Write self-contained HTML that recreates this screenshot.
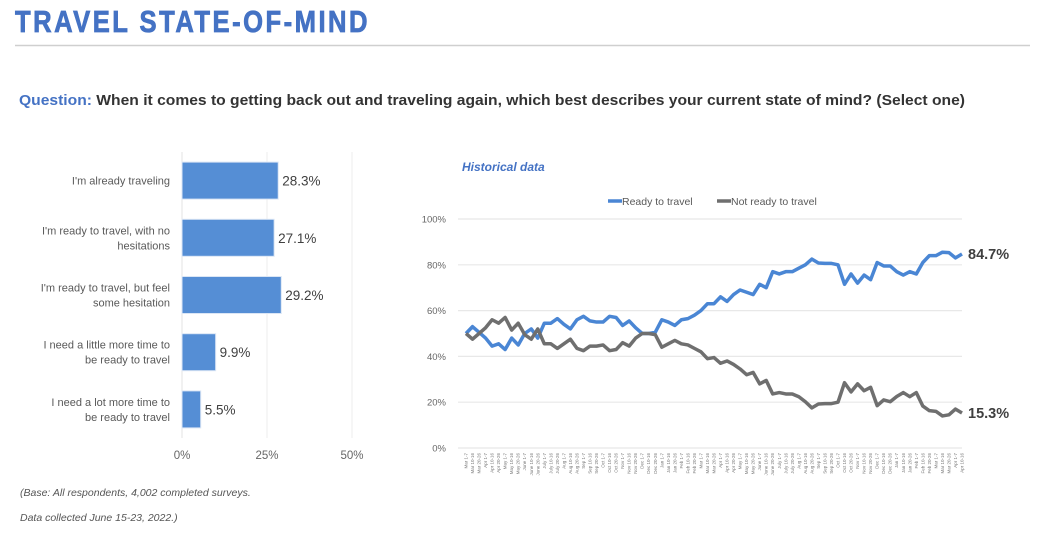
<!DOCTYPE html>
<html><head><meta charset="utf-8">
<style>
html,body{margin:0;padding:0;background:#fff;width:1042px;height:541px;overflow:hidden;font-family:"Liberation Sans",sans-serif;}
svg{position:absolute;left:0;top:0}
</style></head>
<body>
<svg id="svg" width="1042" height="541" viewBox="0 0 1042 541">
  <text x="15" y="32" font-size="31" font-weight="bold" fill="#4472C4" stroke="#4472C4" stroke-width="0.8" letter-spacing="3" textLength="355" lengthAdjust="spacingAndGlyphs">TRAVEL STATE-OF-MIND</text>
  <line x1="15" y1="45.5" x2="1030" y2="45.5" stroke="#cfcfcf" stroke-width="1.5"/>
  <text x="19" y="105" font-size="14.5" font-weight="bold" fill="#333" textLength="946" lengthAdjust="spacingAndGlyphs"><tspan fill="#4472C4">Question:</tspan> When it comes to getting back out and traveling again, which best describes your current state of mind? (Select one)</text>
  <g id="bars"></g>
  <text x="20" y="496" font-size="10.5" font-style="italic" fill="#555">(Base: All respondents, 4,002 completed surveys.</text>
  <text x="20" y="521" font-size="10.5" font-style="italic" fill="#555">Data collected June 15-23, 2022.)</text>
  <text x="462" y="171" font-size="12" font-style="italic" font-weight="bold" fill="#4472C4">Historical data</text>
  <g id="lines"></g>
</svg>
<script>
const barCategories = [["I'm already traveling"],["I'm ready to travel, with no","hesitations"],["I'm ready to travel, but feel","some hesitation"],["I need a little more time to","be ready to travel"],["I need a lot more time to","be ready to travel"]];
const barValues = [28.3, 27.1, 29.2, 9.9, 5.5];
const barTicks = [0, 25, 50];

const readyValues = [50,53,50.5,48,44.5,45.5,43,48,45,50,52,48,54.5,54.5,56.5,54,52,56,57.5,55.5,55,55,57.5,57,53.5,55.5,52.5,50,50,50.5,56,55,53.5,56,56.5,58,60,63,63,66,64,67,69,68,67,71.5,70,77,76,77,77,78.5,80,82.5,80.8,80.6,80.6,80,71.5,76,72,75.5,73.5,81,79.5,79.5,77,75.5,77,76,81,84,84,85.5,85.3,83,84.7];
const notReadyValues = [50,47.5,50,52.5,56,54.5,57,51.5,54.5,49.5,47.5,52,45.5,45.5,43.5,45.5,47.5,43.5,42.5,44.5,44.5,45,42.5,43,46,44.5,48,50,50,49.5,44,45.5,47,45.5,45,43.5,42,39,39.5,37,38,36.5,34.5,32,33,28,29.5,23.6,24.2,23.6,23.6,22.4,20.2,17.5,19.2,19.4,19.4,20,28.5,24.5,28,25,26.5,18.5,21,20.2,22.5,24.2,22.4,24.2,18.3,16.3,16,14,14.5,17,15.3];
const lineTicks = [0,20,40,60,80,100];
const seriesNames = ["Ready to travel","Not ready to travel"];
const months = ["Mar","Apr","May","June","July","Aug","Sep","Oct","Nov","Dec","Jan","Feb"];
const dateLabels = readyValues.map((v,i)=>{const m=months[Math.floor(i/3)%12];const d=[1,10,20][i%3];return m+" "+d+"-"+(d+6);});

const NS="http://www.w3.org/2000/svg";
function mk(tag,attrs,parent,text){const e=document.createElementNS(NS,tag);for(const k in attrs)e.setAttribute(k,attrs[k]);if(text!==undefined)e.textContent=text;parent.appendChild(e);return e;}

// Bar chart
const bg=document.getElementById('bars');
const bx0=182, bx1=352, by0=152, by1=438;
const bxs=v=>bx0+(v/50)*(bx1-bx0);
const band=(by1-by0)/barValues.length;
barTicks.forEach(t=>{
  if(t>0){const gl=mk('line',{x1:bxs(t),x2:bxs(t),y1:by0,y2:by1,stroke:'#ededed','stroke-width':1},bg);
  
  }
  const tl=mk('text',{x:bxs(t),y:459,'font-size':11.5,fill:'#666','text-anchor':'middle'},bg,t+'%');
  
  
});
const ax=mk('line',{x1:bx0,x2:bx0,y1:by0,y2:by1,stroke:'#e3e3e3','stroke-width':1},bg);


barValues.forEach((v,i)=>{
  const cy=by0+band*(i+0.5);
  const r=mk('rect',{x:bx0,y:cy-18.5,width:bxs(v)-bx0,height:37,fill:'#558ED5',stroke:'#dbe6f5','stroke-width':1},bg);
  
  
  const vl=mk('text',{x:bxs(v)+4,y:cy+5,'font-size':13.5,fill:'#404040'},bg,v.toFixed(1)+'%');
  
  
  const lines=barCategories[i];
  lines.forEach((s,j)=>{
    const yy=cy+4+(j-(lines.length-1)/2)*15;
    const cl=mk('text',{x:170,y:yy,'font-size':11,fill:'#595959','text-anchor':'end'},bg,s);
    
    
  });
});

// Line chart
const lg=document.getElementById('lines');
const lx0=466, lx1=962, ly0=448, ly1=219;
const ys=v=>ly0-(v/100)*(ly0-ly1);
const n=readyValues.length;
const xs=i=>lx0+i*(lx1-lx0)/(n-1);
lineTicks.forEach(t=>{
  const gl=mk('line',{x1:458,x2:962,y1:ys(t),y2:ys(t),stroke:'#e8e8e8','stroke-width':1.2},lg);
  
  
  const tl=mk('text',{x:446,y:ys(t)+3.5,'font-size':9.5,fill:'#666','text-anchor':'end'},lg,t+'%');
  
  
});
dateLabels.forEach((s,i)=>{
  const t=mk('text',{x:0,y:0,'font-size':4.5,fill:'#777','text-anchor':'end',transform:'translate('+(xs(i)+1.5)+',453) rotate(-90)'},lg,s);
  
  
});
const colors=['#4A86D4','#6F6F6F'];
[readyValues,notReadyValues].forEach((arr,k)=>{
  const p=mk('polyline',{points:arr.map((v,i)=>xs(i)+','+ys(v)).join(' '),fill:'none',stroke:colors[k],'stroke-width':3.5,'stroke-linejoin':'round'},lg);
  
  
  const last=arr[arr.length-1];
  const el=mk('text',{x:968,y:ys(last)+5,'font-size':14.5,'font-weight':'bold',fill:'#404040'},lg,last.toFixed(1)+'%');
  
  
});
// legend
const legX=[608,717];
seriesNames.forEach((s,k)=>{
  const ll=mk('line',{x1:legX[k],x2:legX[k]+14,y1:201,y2:201,stroke:colors[k],'stroke-width':3.5},lg);
  
  
  const lt=mk('text',{x:legX[k]+14,y:205,'font-size':10.5,fill:'#595959'},lg,s);
  
  
});
</script>
</body></html>
